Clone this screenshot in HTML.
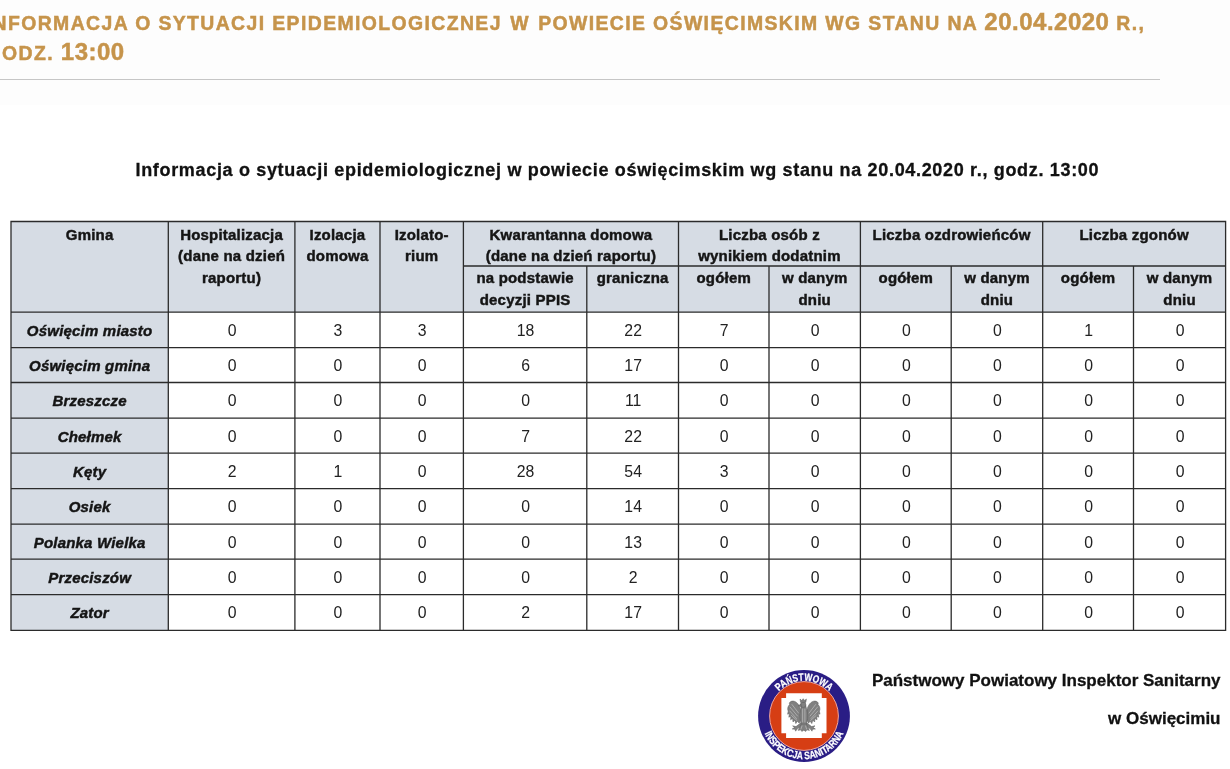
<!DOCTYPE html>
<html lang="pl">
<head>
<meta charset="utf-8">
<title>Informacja o sytuacji epidemiologicznej w powiecie oświęcimskim</title>
<style>
html,body{margin:0;padding:0;background:#fff;}
body{width:1230px;height:769px;position:relative;overflow:hidden;font-family:"Liberation Sans",sans-serif;color:#000;}
#hdr{position:absolute;left:0;top:0;width:1230px;height:105px;background:#fdfdfd;}
#hdr .rule{position:absolute;left:0;top:79px;width:1160px;height:1px;background:#c6c6c6;}
.ttl{position:absolute;white-space:nowrap;font-weight:bold;font-size:19.4px;letter-spacing:1.4px;color:#c6944b;line-height:24px;-webkit-text-stroke:.5px #c6944b;}
.ttl::first-letter{font-size:24px;}
.ttl .d{font-size:24px;letter-spacing:.5px;}
.ttl .w{letter-spacing:2.9px;margin-left:1.5px;}
#t1{left:-15.5px;top:10px;}
#t2{left:-18px;top:39.5px;}
#sub{position:absolute;left:135.5px;top:158px;white-space:nowrap;font-weight:bold;font-size:18px;letter-spacing:.67px;line-height:24px;color:#111;-webkit-text-stroke:.3px #111;}
.th,.rl,.td{position:absolute;text-align:center;white-space:nowrap;color:#151515;}
.th{font-weight:bold;font-size:15px;line-height:21.6px;letter-spacing:.2px;-webkit-text-stroke:.45px #151515;}
.rl{font-weight:bold;font-style:italic;font-size:15px;line-height:20px;letter-spacing:.2px;-webkit-text-stroke:.45px #151515;}
.td{font-size:15.8px;padding-left:1px;box-sizing:border-box;line-height:20px;color:#222;}
#logo{position:absolute;left:754.3px;top:666.15px;font-family:"Liberation Sans",sans-serif;font-weight:bold;}
.ft{position:absolute;right:9.5px;white-space:nowrap;font-weight:bold;font-size:17px;line-height:20px;color:#111;letter-spacing:0;-webkit-text-stroke:.3px #111;}
</style>
</head>
<body>
<div id="hdr">
  <div class="ttl" id="t1">INFORMACJA O SYTUACJI EPIDEMIOLOGICZNEJ <span class="w">W</span> POWIECIE OŚWIĘCIMSKIM WG STANU NA <span class="d">20.04.2020</span> R.,</div>
  <div class="ttl" id="t2">GODZ. <span class="d">13:00</span></div>
  <div class="rule"></div>
</div>
<div id="sub">Informacja o sytuacji epidemiologicznej w powiecie oświęcimskim wg stanu na 20.04.2020 r., godz. 13:00</div>
<!--TBL-->
<svg id="grid" width="1230" height="769" viewBox="0 0 1230 769" style="position:absolute;left:0;top:0">
<rect x="11.0" y="221.5" width="1214.6" height="90.7" fill="#d6dce4"/>
<rect x="11.0" y="312.2" width="157.3" height="318.1" fill="#d6dce4"/>
<path d="M10.35 221.5H1226.25M10.35 312.2H1226.25M10.35 347.6H1226.25M10.35 382.5H1226.25M10.35 418.1H1226.25M10.35 453.1H1226.25M10.35 488.7H1226.25M10.35 524.1H1226.25M10.35 559.2H1226.25M10.35 594.6H1226.25M10.35 630.3H1226.25M463.4 266.0H1225.6M11.0 221.5V630.3M168.3 221.5V630.3M294.9 221.5V630.3M380.0 221.5V630.3M463.4 221.5V630.3M586.8 266.0V630.3M678.5 221.5V630.3M769.0 266.0V630.3M860.4 221.5V630.3M951.2 266.0V630.3M1042.7 221.5V630.3M1133.5 266.0V630.3M1225.6 221.5V630.3" fill="none" stroke="#2b2b2b" stroke-width="1.3"/>
</svg>
<div class="th" style="left:11.0px;top:223.80px;width:157.3px">Gmina</div>
<div class="th" style="left:168.3px;top:223.80px;width:126.6px">Hospitalizacja<br>(dane na dzień<br>raportu)</div>
<div class="th" style="left:294.9px;top:223.80px;width:85.1px">Izolacja<br>domowa</div>
<div class="th" style="left:380.0px;top:223.80px;width:83.4px">Izolato-<br>rium</div>
<div class="th" style="left:463.4px;top:223.80px;width:215.1px">Kwarantanna domowa<br>(dane na dzień raportu)</div>
<div class="th" style="left:678.5px;top:223.80px;width:181.9px">Liczba osób z<br>wynikiem dodatnim</div>
<div class="th" style="left:860.4px;top:223.80px;width:182.3px">Liczba ozdrowieńców</div>
<div class="th" style="left:1042.7px;top:223.80px;width:182.9px">Liczba zgonów</div>
<div class="th" style="left:463.4px;top:267.30px;width:123.4px">na podstawie<br>decyzji PPIS</div>
<div class="th" style="left:586.8px;top:267.30px;width:91.7px">graniczna</div>
<div class="th" style="left:678.5px;top:267.30px;width:90.5px">ogółem</div>
<div class="th" style="left:769.0px;top:267.30px;width:91.4px">w danym<br>dniu</div>
<div class="th" style="left:860.4px;top:267.30px;width:90.8px">ogółem</div>
<div class="th" style="left:951.2px;top:267.30px;width:91.5px">w danym<br>dniu</div>
<div class="th" style="left:1042.7px;top:267.30px;width:90.8px">ogółem</div>
<div class="th" style="left:1133.5px;top:267.30px;width:92.1px">w danym<br>dniu</div>
<div class="rl" style="left:11.0px;top:321.00px;width:157.3px">Oświęcim miasto</div>
<div class="td" style="left:168.3px;top:321.00px;width:126.6px">0</div>
<div class="td" style="left:294.9px;top:321.00px;width:85.1px">3</div>
<div class="td" style="left:380.0px;top:321.00px;width:83.4px">3</div>
<div class="td" style="left:463.4px;top:321.00px;width:123.4px">18</div>
<div class="td" style="left:586.8px;top:321.00px;width:91.7px">22</div>
<div class="td" style="left:678.5px;top:321.00px;width:90.5px">7</div>
<div class="td" style="left:769.0px;top:321.00px;width:91.4px">0</div>
<div class="td" style="left:860.4px;top:321.00px;width:90.8px">0</div>
<div class="td" style="left:951.2px;top:321.00px;width:91.5px">0</div>
<div class="td" style="left:1042.7px;top:321.00px;width:90.8px">1</div>
<div class="td" style="left:1133.5px;top:321.00px;width:92.1px">0</div>
<div class="rl" style="left:11.0px;top:356.00px;width:157.3px">Oświęcim gmina</div>
<div class="td" style="left:168.3px;top:356.00px;width:126.6px">0</div>
<div class="td" style="left:294.9px;top:356.00px;width:85.1px">0</div>
<div class="td" style="left:380.0px;top:356.00px;width:83.4px">0</div>
<div class="td" style="left:463.4px;top:356.00px;width:123.4px">6</div>
<div class="td" style="left:586.8px;top:356.00px;width:91.7px">17</div>
<div class="td" style="left:678.5px;top:356.00px;width:90.5px">0</div>
<div class="td" style="left:769.0px;top:356.00px;width:91.4px">0</div>
<div class="td" style="left:860.4px;top:356.00px;width:90.8px">0</div>
<div class="td" style="left:951.2px;top:356.00px;width:91.5px">0</div>
<div class="td" style="left:1042.7px;top:356.00px;width:90.8px">0</div>
<div class="td" style="left:1133.5px;top:356.00px;width:92.1px">0</div>
<div class="rl" style="left:11.0px;top:391.00px;width:157.3px">Brzeszcze</div>
<div class="td" style="left:168.3px;top:391.00px;width:126.6px">0</div>
<div class="td" style="left:294.9px;top:391.00px;width:85.1px">0</div>
<div class="td" style="left:380.0px;top:391.00px;width:83.4px">0</div>
<div class="td" style="left:463.4px;top:391.00px;width:123.4px">0</div>
<div class="td" style="left:586.8px;top:391.00px;width:91.7px">11</div>
<div class="td" style="left:678.5px;top:391.00px;width:90.5px">0</div>
<div class="td" style="left:769.0px;top:391.00px;width:91.4px">0</div>
<div class="td" style="left:860.4px;top:391.00px;width:90.8px">0</div>
<div class="td" style="left:951.2px;top:391.00px;width:91.5px">0</div>
<div class="td" style="left:1042.7px;top:391.00px;width:90.8px">0</div>
<div class="td" style="left:1133.5px;top:391.00px;width:92.1px">0</div>
<div class="rl" style="left:11.0px;top:427.00px;width:157.3px">Chełmek</div>
<div class="td" style="left:168.3px;top:427.00px;width:126.6px">0</div>
<div class="td" style="left:294.9px;top:427.00px;width:85.1px">0</div>
<div class="td" style="left:380.0px;top:427.00px;width:83.4px">0</div>
<div class="td" style="left:463.4px;top:427.00px;width:123.4px">7</div>
<div class="td" style="left:586.8px;top:427.00px;width:91.7px">22</div>
<div class="td" style="left:678.5px;top:427.00px;width:90.5px">0</div>
<div class="td" style="left:769.0px;top:427.00px;width:91.4px">0</div>
<div class="td" style="left:860.4px;top:427.00px;width:90.8px">0</div>
<div class="td" style="left:951.2px;top:427.00px;width:91.5px">0</div>
<div class="td" style="left:1042.7px;top:427.00px;width:90.8px">0</div>
<div class="td" style="left:1133.5px;top:427.00px;width:92.1px">0</div>
<div class="rl" style="left:11.0px;top:462.00px;width:157.3px">Kęty</div>
<div class="td" style="left:168.3px;top:462.00px;width:126.6px">2</div>
<div class="td" style="left:294.9px;top:462.00px;width:85.1px">1</div>
<div class="td" style="left:380.0px;top:462.00px;width:83.4px">0</div>
<div class="td" style="left:463.4px;top:462.00px;width:123.4px">28</div>
<div class="td" style="left:586.8px;top:462.00px;width:91.7px">54</div>
<div class="td" style="left:678.5px;top:462.00px;width:90.5px">3</div>
<div class="td" style="left:769.0px;top:462.00px;width:91.4px">0</div>
<div class="td" style="left:860.4px;top:462.00px;width:90.8px">0</div>
<div class="td" style="left:951.2px;top:462.00px;width:91.5px">0</div>
<div class="td" style="left:1042.7px;top:462.00px;width:90.8px">0</div>
<div class="td" style="left:1133.5px;top:462.00px;width:92.1px">0</div>
<div class="rl" style="left:11.0px;top:497.00px;width:157.3px">Osiek</div>
<div class="td" style="left:168.3px;top:497.00px;width:126.6px">0</div>
<div class="td" style="left:294.9px;top:497.00px;width:85.1px">0</div>
<div class="td" style="left:380.0px;top:497.00px;width:83.4px">0</div>
<div class="td" style="left:463.4px;top:497.00px;width:123.4px">0</div>
<div class="td" style="left:586.8px;top:497.00px;width:91.7px">14</div>
<div class="td" style="left:678.5px;top:497.00px;width:90.5px">0</div>
<div class="td" style="left:769.0px;top:497.00px;width:91.4px">0</div>
<div class="td" style="left:860.4px;top:497.00px;width:90.8px">0</div>
<div class="td" style="left:951.2px;top:497.00px;width:91.5px">0</div>
<div class="td" style="left:1042.7px;top:497.00px;width:90.8px">0</div>
<div class="td" style="left:1133.5px;top:497.00px;width:92.1px">0</div>
<div class="rl" style="left:11.0px;top:533.00px;width:157.3px">Polanka Wielka</div>
<div class="td" style="left:168.3px;top:533.00px;width:126.6px">0</div>
<div class="td" style="left:294.9px;top:533.00px;width:85.1px">0</div>
<div class="td" style="left:380.0px;top:533.00px;width:83.4px">0</div>
<div class="td" style="left:463.4px;top:533.00px;width:123.4px">0</div>
<div class="td" style="left:586.8px;top:533.00px;width:91.7px">13</div>
<div class="td" style="left:678.5px;top:533.00px;width:90.5px">0</div>
<div class="td" style="left:769.0px;top:533.00px;width:91.4px">0</div>
<div class="td" style="left:860.4px;top:533.00px;width:90.8px">0</div>
<div class="td" style="left:951.2px;top:533.00px;width:91.5px">0</div>
<div class="td" style="left:1042.7px;top:533.00px;width:90.8px">0</div>
<div class="td" style="left:1133.5px;top:533.00px;width:92.1px">0</div>
<div class="rl" style="left:11.0px;top:568.00px;width:157.3px">Przeciszów</div>
<div class="td" style="left:168.3px;top:568.00px;width:126.6px">0</div>
<div class="td" style="left:294.9px;top:568.00px;width:85.1px">0</div>
<div class="td" style="left:380.0px;top:568.00px;width:83.4px">0</div>
<div class="td" style="left:463.4px;top:568.00px;width:123.4px">0</div>
<div class="td" style="left:586.8px;top:568.00px;width:91.7px">2</div>
<div class="td" style="left:678.5px;top:568.00px;width:90.5px">0</div>
<div class="td" style="left:769.0px;top:568.00px;width:91.4px">0</div>
<div class="td" style="left:860.4px;top:568.00px;width:90.8px">0</div>
<div class="td" style="left:951.2px;top:568.00px;width:91.5px">0</div>
<div class="td" style="left:1042.7px;top:568.00px;width:90.8px">0</div>
<div class="td" style="left:1133.5px;top:568.00px;width:92.1px">0</div>
<div class="rl" style="left:11.0px;top:603.00px;width:157.3px">Zator</div>
<div class="td" style="left:168.3px;top:603.00px;width:126.6px">0</div>
<div class="td" style="left:294.9px;top:603.00px;width:85.1px">0</div>
<div class="td" style="left:380.0px;top:603.00px;width:83.4px">0</div>
<div class="td" style="left:463.4px;top:603.00px;width:123.4px">2</div>
<div class="td" style="left:586.8px;top:603.00px;width:91.7px">17</div>
<div class="td" style="left:678.5px;top:603.00px;width:90.5px">0</div>
<div class="td" style="left:769.0px;top:603.00px;width:91.4px">0</div>
<div class="td" style="left:860.4px;top:603.00px;width:90.8px">0</div>
<div class="td" style="left:951.2px;top:603.00px;width:91.5px">0</div>
<div class="td" style="left:1042.7px;top:603.00px;width:90.8px">0</div>
<div class="td" style="left:1133.5px;top:603.00px;width:92.1px">0</div>
<!--/TBL-->
<!--LOGO-->
<svg id="logo" width="100" height="100" viewBox="0 0 100 100">
<circle cx="50" cy="50" r="45.9" fill="#2a1d85"/>
<circle cx="50" cy="50" r="34.4" fill="#d63e14" stroke="#efa39c" stroke-width="1"/>
<path d="M32.1 27.2H67.8V31.9H72.5V67.3H67.8V72H32.1V67.3H27.4V31.9H32.1Z" fill="#fff"/>
<g fill="#808080" stroke="#5c5c5c" stroke-width=".5" stroke-linejoin="round">
<g id="eh">
<path d="M47 46C46.5 41 44 36.2 40 35.2C36.8 34.6 34.6 36.6 35.6 38.6C33.6 40.4 33.2 43.2 34.2 45.2L33.6 48.2L35.4 47.6L34.8 51.2L36.8 50.2L36.6 53.8L38.6 52.4L39 56L40.8 54.2L41.8 57.6L43.4 55.2L45.2 57.2L47 53Z"/>
<path d="M47.2 56.6L42 60.6L38.6 59.8L40.4 61.6L38.2 63L41 63.2L41.6 65.2L43.4 62.8L48.2 59.6Z"/>
</g>
<use href="#eh" transform="translate(99.6 0) scale(-1 1)"/>
<path d="M47.3 40C46.6 42 47 44 46.2 46C45.4 50 46 55 47.6 58.6L52 58.6C53.6 55 54.2 50 53.4 46C52.6 43 52.2 41 51.6 39Z"/>
<path d="M47.2 58L44.2 64.4L46.8 63.8L47.8 65.4L49.8 64.2L51.8 65.4L52.8 63.8L55.4 64.4L52.4 58Z"/>
<circle cx="49.2" cy="38.8" r="2.7"/>
<path d="M47 38L44.2 39.8L47.2 40.6Z"/>
<path d="M46.6 36.4L46 33L47.8 34.6L49.2 32.7L50.6 34.6L52.4 33L51.8 36.4Z"/>
</g>
<g fill="none" stroke="#c9c9c9" stroke-width=".6" stroke-linecap="round">
<path d="M38 38.5L44.5 47M36 41L43.5 50M35.8 45L42.5 52.5M37.5 49.5L43 54.5M61.6 38.5L55.1 47M63.6 41L56.1 50M63.8 45L57.1 52.5M62.1 49.5L56.6 54.5M48.6 43V56M50.9 43V56M48 60L47 63M51.6 60L52.6 63"/>
</g>
<path id="pt" d="M14.8 50A35.2 35.2 0 0 1 85.2 50" fill="none"/>
<path id="pb" d="M6.8 50A43.2 43.2 0 0 0 93.2 50" fill="none"/>
<text font-size="10.6" fill="#fff" stroke="#fff" stroke-width=".25" text-anchor="middle"><textPath href="#pt" startOffset="50%" textLength="56" lengthAdjust="spacingAndGlyphs">PAŃSTWOWA</textPath></text>
<text font-size="10.6" fill="#fff" stroke="#fff" stroke-width=".25" text-anchor="middle"><textPath href="#pb" startOffset="50%" textLength="100" lengthAdjust="spacingAndGlyphs">INSPEKCJA SANITARNA</textPath></text>
</svg>
<div class="ft" style="top:670.6px">Państwowy Powiatowy Inspektor Sanitarny</div>
<div class="ft" style="top:708.8px">w Oświęcimiu</div>
<!--/LOGO-->
</body>
</html>
